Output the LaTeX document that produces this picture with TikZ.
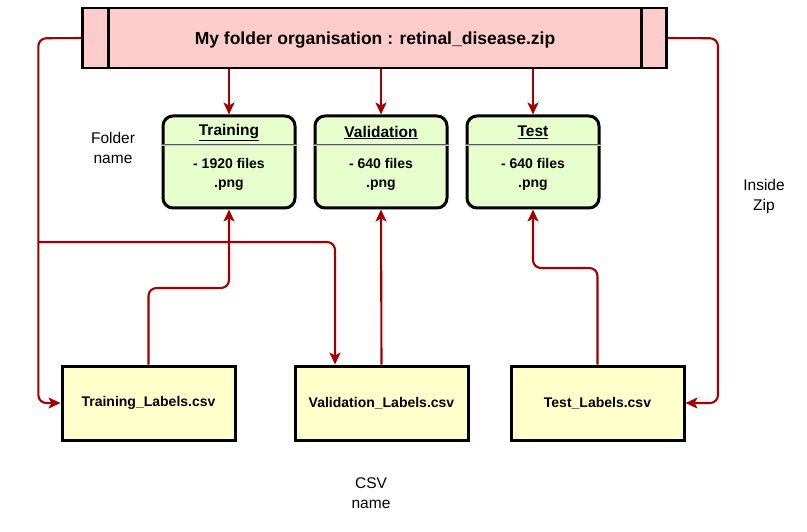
\documentclass[tikz,border=0pt]{standalone}
\usepackage{fontspec}
\setmainfont{Liberation Sans}
\usetikzlibrary{arrows.meta}
\definecolor{conn}{HTML}{A00000}
\definecolor{topfill}{HTML}{FFCCCC}
\definecolor{greenfill}{HTML}{E6FFCC}
\definecolor{yellowfill}{HTML}{FFFFCC}
\tikzset{
  conn/.style={draw=conn, line width=2.1pt, rounded corners=8pt, -{Stealth[length=12pt,width=11pt,inset=3pt]}},
  topbox/.style={draw=black, line width=2.8pt, fill=topfill, minimum width=584pt, minimum height=60pt, inner sep=0pt},
  folderbox/.style={draw=black, line width=3pt, fill=greenfill, rounded corners=10pt, minimum width=132pt, minimum height=92pt, inner sep=0pt},
  csvbox/.style={draw=black, line width=3pt, fill=yellowfill, minimum width=173pt, minimum height=74pt, inner sep=0pt,
    font=\fontsize{14pt}{16pt}\selectfont\bfseries},
  plain/.style={font=\fontsize{15.5pt}{20pt}\selectfont, align=center, inner sep=0pt},
  head/.style={font=\fontsize{15.5pt}{18pt}\selectfont\bfseries, inner sep=0pt},
  body/.style={font=\fontsize{14pt}{19.5pt}\selectfont\bfseries, align=center, inner sep=0pt},
}
\begin{document}
\begin{tikzpicture}[x=1pt,y=-1pt]
\useasboundingbox (0,0) rectangle (807,532);
% top box
\node[topbox] (zip) at (374.7,38) {};
\draw[line width=2.8pt] ([xshift=27.3pt]zip.north west) -- ([xshift=27.3pt]zip.south west);
\draw[line width=2.8pt] ([xshift=-26.7pt]zip.north east) -- ([xshift=-26.7pt]zip.south east);
\node[font=\fontsize{17.5pt}{20pt}\selectfont\bfseries, inner sep=0pt] (title) at (375,40) {My folder organisation : retinal\_disease.zip};
% folder boxes
\node[folderbox] (tr) at (229,162) {};
\node[folderbox] (va) at (381,162) {};
\node[folderbox] (te) at (533,162) {};
\foreach \n/\h/\b in {tr/Training/- 1920 files, va/Validation/- 640 files, te/Test/- 640 files}{
  \draw[draw=gray!70!black, line width=0.6pt, double=gray!40, double distance=0.8pt] ([yshift=-31pt]\n.north west) -- ([yshift=-31pt]\n.north east);
  \node[head] (\n h) at ([yshift=-18pt]\n.north) {\underline{\h}};
  \node[body] (\n b) at ([yshift=-12.5pt]\n.center) {\b\\.png};
}
% csv boxes
\node[csvbox] (trl) at (148.5,403) {Training\_Labels.csv};
\node[csvbox] (val) at (381.5,403) {Validation\_Labels.csv};
\node[csvbox] (tel) at (597.5,403) {Test\_Labels.csv};
% side labels
\node[plain] (fn) at (113,148) {Folder\\name};
\node[plain] (iz) at (764,196.5) {Inside\\Zip};
\node[plain] (cn) at (371,493.5) {CSV\\name};
% connectors
\coordinate (lft) at (38.3,38.3);
\coordinate (rgt) at (718,38.3);
\coordinate (j) at (38.3,242);
\draw[conn] (zip.west) -- (lft) -- (lft |- trl.west) -- (trl.west);
\draw[conn] (j) -- (335,242) -- ([xshift=-46.5pt]val.north);
\draw[conn] (trl.north) -- (148.5,288) -- (229,288) -- (tr.south);
\draw[conn] (val.north) -- (va.south);
\draw[conn] (tel.north) -- (597.5,268) -- (533,268) -- (te.south);
\draw[conn] (zip.east) -- (rgt) -- (rgt |- tel.east) -- (tel.east);
\draw[conn] ([xshift=-145.7pt]zip.south) -- (tr.north);
\draw[conn] ([xshift=6.3pt]zip.south) -- (va.north);
\draw[conn] ([xshift=158.3pt]zip.south) -- (te.north);
\end{tikzpicture}
\end{document}
